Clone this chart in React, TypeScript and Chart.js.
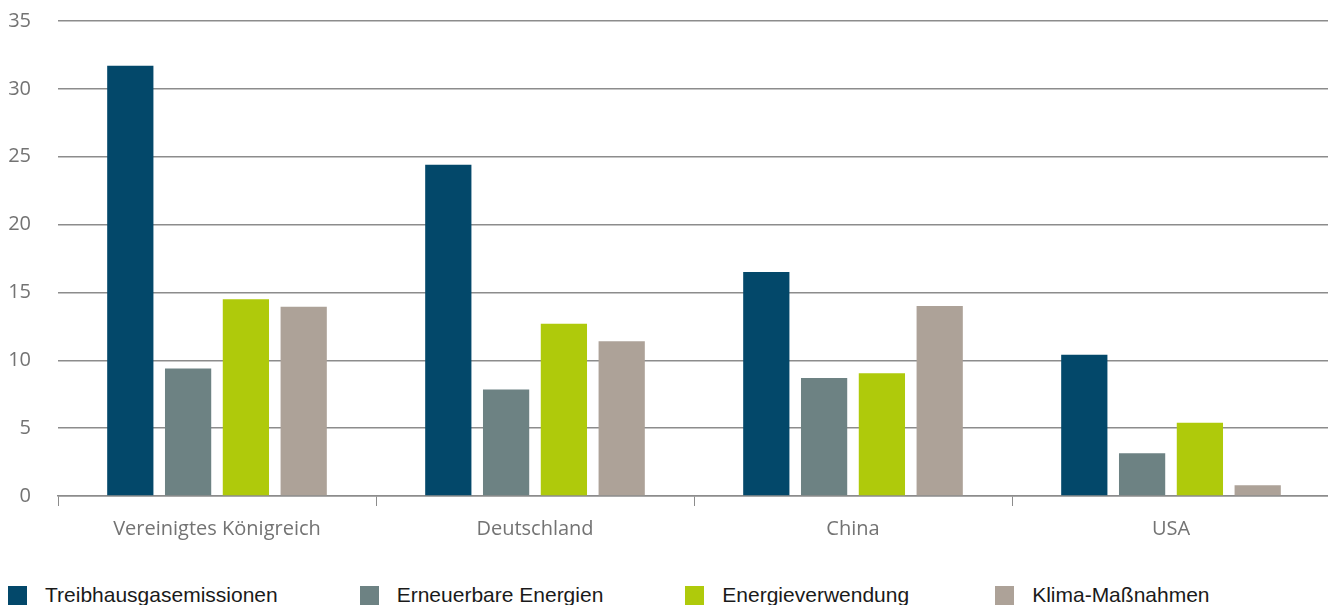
import React, { useEffect, useRef } from "react";
import { Chart, registerables } from "chart.js";

Chart.register(...registerables);

const categories = ["Vereinigtes Königreich", "Deutschland", "China", "USA"];
const seriesNames = [
  "Treibhausgasemissionen",
  "Erneuerbare Energien",
  "Energieverwendung",
  "Klima-Maßnahmen",
];
const treibhaus = [31.7, 24.4, 16.5, 10.4];
const erneuerbare = [9.4, 7.85, 8.7, 3.15];
const energie = [14.5, 12.7, 9.05, 5.4];
const klima = [13.95, 11.4, 14.0, 0.8];
const yMax = 35;
const yStep = 5;

const colors = ["#03486a", "#6d8283", "#afca0b", "#ada298"];

export default function App() {
  const canvasRef = useRef<HTMLCanvasElement | null>(null);

  useEffect(() => {
    const ctx = canvasRef.current;
    if (!ctx) return;
    const seriesData = [treibhaus, erneuerbare, energie, klima];
    const chart = new Chart(ctx, {
      type: "bar",
      data: {
        labels: categories,
        datasets: seriesNames.map((name, i) => ({
          label: name,
          data: seriesData[i],
          backgroundColor: colors[i],
          borderWidth: 0,
          categoryPercentage: 0.727,
          barPercentage: 0.8,
        })),
      },
      options: {
        animation: false,
        responsive: true,
        maintainAspectRatio: false,
        layout: { padding: { top: 13, right: 0, left: 0, bottom: 0 } },
        plugins: {
          legend: { display: false },
          tooltip: { enabled: false },
        },
        scales: {
          x: {
            grid: {
              offset: true,
              drawOnChartArea: false,
              tickLength: 10,
              color: "#8c8c8c",
              lineWidth: 1,
            },
            border: { display: true, color: "#8c8c8c", width: 1.5 },
            ticks: {
              color: "#737373",
              font: { family: "'Open Sans'", size: 20 },
              padding: 11,
            },
            afterFit: (scale: any) => {
              scale.height = 52;
            },
          },
          y: {
            min: 0,
            max: yMax,
            ticks: {
              stepSize: yStep,
              color: "#737373",
              font: { family: "'Open Sans'", size: 20 },
              padding: 27,
            },
            grid: {
              drawTicks: false,
              color: "#8c8c8c",
              lineWidth: 1.5,
            },
            border: { display: false },
            afterFit: (scale: any) => {
              scale.width = 50;
              scale.paddingTop = 0;
              scale.paddingBottom = 0;
            },
          },
        },
      },
    });
    return () => chart.destroy();
  }, []);

  return (
    <div style={{ position: "relative", width: 1322, height: 597 }}>
      <div style={{ position: "absolute", left: 0, top: 0, width: 1322, height: 540 }}>
        <canvas ref={canvasRef} />
      </div>
      <div
        style={{
          position: "absolute",
          left: 0,
          top: 576,
          display: "flex",
          alignItems: "flex-start",
          fontFamily: "'Liberation Sans', Arial, sans-serif",
          fontSize: 21,
          lineHeight: "21px",
          color: "#1a1a1a",
          whiteSpace: "nowrap",
        }}
      >
        {seriesNames.map((name, i) => (
          <div
            key={name}
            style={{
              display: "flex",
              alignItems: "flex-start",
              marginRight: i === 2 ? 86 : i < seriesNames.length - 1 ? 82 : 0,
            }}
          >
            <span
              style={{
                display: "inline-block",
                width: 19,
                height: 19,
                marginTop: 2,
                marginRight: 18,
                background: colors[i],
              }}
            />
            <span>{name}</span>
          </div>
        ))}
      </div>
    </div>
  );
}
